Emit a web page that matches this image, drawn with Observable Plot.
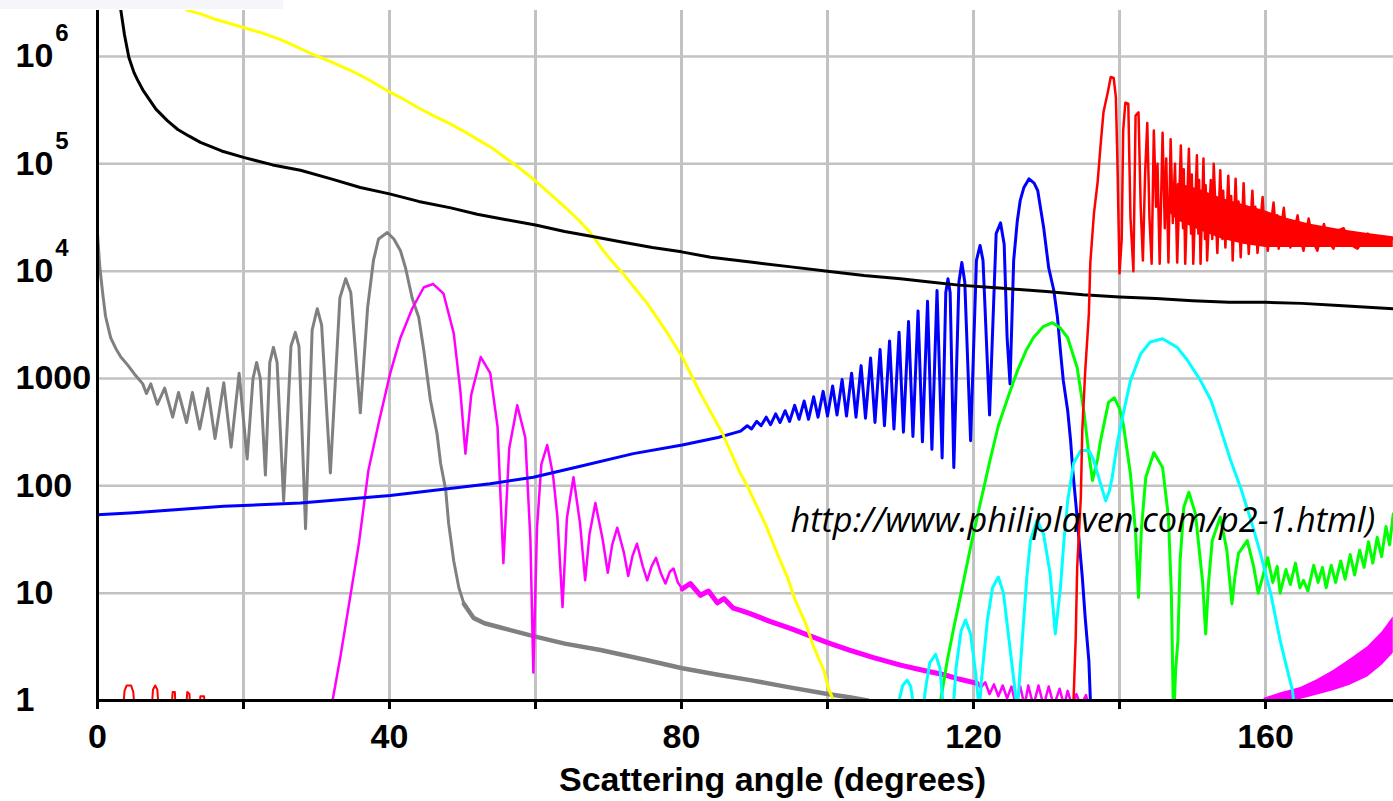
<!DOCTYPE html>
<html>
<head>
<meta charset="utf-8">
<script src="https://cdn.jsdelivr.net/npm/d3@7"></script>
<script src="https://cdn.jsdelivr.net/npm/@observablehq/plot@0.6"></script>
<style>
  html, body { margin: 0; padding: 0; background: #fff; overflow: hidden; }
  #wrap { position: relative; width: 1393px; height: 801px; }
  #strip { position: absolute; left: 0; top: 0; width: 283px; height: 9px; background: #f6f6fa; }
</style>
</head>
<body>
<div id="wrap"></div>
<script>
// Mie scattering intensity vs scattering angle, log scale.
// Each curve: [angle in degrees, log10(intensity)].

const xTicks = [0, 20, 40, 60, 80, 100, 120, 140, 160];
const xGrid = [20, 40, 60, 80, 100, 120, 140, 160];
const yTicks = [1, 10, 100, 1000, 1e4, 1e5, 1e6];
const yTickLabels = ["1", "10", "100", "1000", "10^4", "10^5", "10^6"];
const yGrid = [10, 100, 1000, 1e4, 1e5, 1e6];
const xTitle = "Scattering angle (degrees)";
const sourceNote = "http://www.philiplaven.com/p2-1.html)";

const black = [[3.0,6.52],[3.2,6.43],[3.7,6.2],[4.3,5.99],[5.0,5.85],[5.5,5.78],[6.2,5.69],[6.9,5.62],[8.0,5.51],[9.6,5.40],[11.0,5.32],[12.5,5.26],[14.1,5.20],[17.0,5.12],[20.0,5.06],[24.0,4.99],[27.8,4.94],[32.0,4.86],[36.0,4.78],[40.0,4.72],[44.0,4.65],[48.4,4.59],[52.0,4.53],[56.0,4.48],[60.0,4.43],[64.0,4.37],[68.0,4.32],[72.0,4.27],[76.0,4.22],[80.0,4.18],[84.0,4.13],[90.0,4.08],[95.0,4.04],[100.0,4.0],[105.0,3.96],[110.0,3.93],[114.0,3.90],[118.0,3.87],[124.0,3.84],[130.0,3.81],[135.0,3.78],[140.0,3.76],[145.0,3.745],[150.0,3.725],[155.0,3.71],[160.0,3.71],[165.0,3.70],[170.0,3.68],[177.5,3.65]];

const yellow = [[12.0,6.45],[12.3,6.43],[14.0,6.40],[16.0,6.35],[18.0,6.31],[20.0,6.27],[22.5,6.22],[25.0,6.16],[27.0,6.10],[29.2,6.03],[32.0,5.95],[35.0,5.86],[37.5,5.77],[40.0,5.67],[42.0,5.60],[44.0,5.52],[46.0,5.45],[48.4,5.37],[50.0,5.31],[52.0,5.23],[54.0,5.15],[56.0,5.05],[58.0,4.95],[60.0,4.84],[62.0,4.72],[64.0,4.60],[66.0,4.47],[67.5,4.36],[69.3,4.19],[71.0,4.05],[72.0,3.98],[73.5,3.85],[75.3,3.70],[78.1,3.42],[80.1,3.20],[82.6,2.86],[85.6,2.49],[88.1,2.11],[89.0,2.0],[90.4,1.80],[91.7,1.61],[93.1,1.37],[94.5,1.15],[95.6,0.93],[97.0,0.72],[98.1,0.50],[99.5,0.28],[100.1,0.12],[100.8,0.0],[101.2,-0.1]];

const grayMain = [[0.0,4.35],[0.3,4.05],[0.7,3.80],[1.1,3.58],[1.8,3.38],[2.5,3.28],[3.2,3.20],[4.2,3.12],[5.2,3.03],[6.2,2.95],[6.7,2.86],[7.3,2.95],[8.2,2.76],[9.2,2.91],[10.3,2.64],[11.1,2.87],[12.2,2.59],[13.0,2.87],[14.0,2.53],[15.1,2.91],[16.1,2.44],[17.3,2.96],[18.3,2.36],[19.4,3.05],[20.5,2.25],[21.3,3.0],[21.8,3.15],[22.3,3.0],[23.0,2.10],[23.6,3.15],[24.1,3.29],[24.6,3.15],[25.5,1.86],[26.5,3.3],[27.1,3.43],[27.6,3.3],[28.5,1.60],[29.4,3.45],[30.1,3.65],[30.7,3.5],[31.9,2.12],[33.2,3.75],[34.0,3.93],[34.7,3.8],[36.0,2.68],[37.0,3.66],[37.8,4.10],[38.5,4.30],[39.7,4.36],[40.6,4.30],[41.5,4.19],[42.2,4.03],[43.1,3.75],[44.0,3.57],[44.7,3.26],[45.6,2.80],[46.5,2.49],[47.0,2.21],[47.7,1.96],[48.1,1.65],[48.8,1.30],[49.5,1.05],[50.2,0.90]];
const grayTail = [[50.2,0.90],[51.5,0.77],[53.0,0.72],[55.2,0.68],[59.7,0.60],[64.0,0.53],[68.9,0.47],[75.0,0.38],[80.1,0.30],[85.0,0.24],[89.4,0.19],[95.0,0.12],[100.0,0.06],[103.0,0.03],[105.5,0.0],[106.0,-0.05]];

const magentaMain = [[32.0,-0.1],[32.2,0.0],[33.3,0.42],[34.7,1.0],[35.8,1.46],[37.1,2.14],[38.5,2.58],[40.1,3.05],[41.5,3.38],[43.1,3.65],[44.7,3.85],[46.0,3.88],[47.4,3.79],[48.8,3.42],[49.7,2.89],[50.4,2.30],[51.2,2.85],[52.5,3.20],[53.8,3.05],[54.8,2.55],[55.6,1.28],[56.4,2.35],[57.5,2.75],[58.6,2.45],[59.3,1.5],[59.7,0.26],[60.2,1.6],[60.8,2.2],[61.6,2.38],[62.4,2.1],[63.0,1.71],[63.7,0.87],[64.3,1.7],[65.2,2.08],[66.1,1.65],[66.8,1.12],[67.4,1.55],[68.2,1.84],[69.2,1.5],[69.9,1.19],[70.5,1.45],[71.2,1.61],[72.1,1.38],[72.7,1.16],[73.3,1.35],[73.9,1.46],[74.7,1.25],[75.3,1.12],[75.9,1.25],[76.5,1.33],[77.2,1.18],[77.8,1.09],[78.4,1.2],[78.9,1.23],[79.5,1.1],[80.1,1.04]];
const magentaTail = [[80.1,1.04],[81.2,1.09],[82.6,0.98],[83.7,1.02],[84.9,0.91],[85.8,0.95],[87.1,0.86],[88.1,0.84],[89.4,0.81],[92.0,0.74],[95.0,0.67],[100.0,0.54],[103.0,0.47],[106.3,0.40],[110.0,0.33],[113.2,0.28],[116.0,0.24],[118.0,0.20],[120.5,0.16]];
const magentaSpikes = [[120.5,0.16],[121.0,0.12],[121.6,0.17],[122.2,0.06],[122.8,0.15],[123.4,0.04],[124.0,0.14],[124.6,0.02],[125.2,0.13],[125.8,-0.05],[126.4,0.13],[127.0,-0.05],[127.5,0.14],[128.2,-0.05],[128.9,0.14],[129.6,-0.05],[130.3,0.13],[131.0,-0.05],[131.8,0.11],[132.4,-0.05],[132.9,0.09],[133.5,-0.05],[134.1,0.06],[134.7,-0.05],[135.4,0.05],[136.0,-0.1]];
// [angle, log10 low, log10 high] of the fast-oscillating backscatter band
const magentaBack = [[159.8,-0.05,0.02],[162.0,-0.03,0.07],[164.8,0.01,0.12],[167.0,0.05,0.19],[169.3,0.09,0.28],[171.5,0.14,0.38],[174.0,0.22,0.50],[176.0,0.33,0.64],[177.5,0.44,0.78]];

const blue = [[0.0,1.73],[5.0,1.75],[17.3,1.81],[27.8,1.84],[40.1,1.91],[53.8,2.02],[59.7,2.08],[66.0,2.18],[73.4,2.30],[80.1,2.38],[85.0,2.45],[88.1,2.51],
  [89.0,2.56],[89.6,2.53],[90.3,2.60],[90.9,2.56],[91.6,2.64],[92.2,2.57],[92.9,2.67],[93.5,2.59],[94.2,2.70],[94.8,2.60],[95.5,2.75],[96.1,2.62],[96.8,2.79],[97.4,2.62],[98.1,2.83],[98.7,2.64],[99.4,2.88],[100.0,2.65],[100.7,2.93],[101.3,2.66],[102.0,2.99],[102.6,2.65],[103.3,3.05],[103.9,2.64],[104.6,3.12],[105.2,2.63],[105.9,3.19],[106.5,2.59],[107.2,3.27],[107.8,2.56],[108.5,3.35],[109.1,2.53],[109.8,3.43],[110.4,2.50],[111.1,3.53],[111.7,2.46],[112.4,3.63],[113.0,2.41],[113.7,3.72],[114.3,2.34],[115.0,3.82],[115.7,2.26],[116.2,3.8],[116.5,3.93],[116.8,3.8],[117.3,2.17],[118.0,3.9],[118.4,4.08],[118.8,3.9],[119.6,2.42],[120.4,4.1],[120.9,4.24],[121.3,4.1],[122.2,2.66],[123.1,4.35],[123.7,4.45],[124.2,4.25],[124.6,3.38],[125.0,2.95],[125.5,4.10],[126.0,4.47],[126.4,4.66],[126.9,4.78],[127.6,4.86],[128.3,4.82],[128.8,4.75],[129.6,4.41],[130.3,4.03],[131.0,3.82],[131.5,3.57],[131.9,3.26],[132.3,2.98],[132.9,2.70],[133.3,2.42],[133.6,2.14],[134.2,1.70],[134.9,1.15],[135.3,0.77],[135.8,0.37],[136.0,0.02],[136.3,-0.3]];

const green = [[115.2,-0.1],[115.5,0.0],[116.4,0.37],[117.3,0.68],[118.2,0.97],[119.6,1.43],[121.0,1.86],[122.3,2.25],[123.4,2.56],[124.7,2.82],[126.0,3.07],[127.2,3.26],[128.2,3.38],[129.5,3.48],[130.8,3.52],[131.9,3.47],[132.9,3.38],[134.2,3.10],[135.1,2.70],[135.8,2.30],[136.3,2.05],[137.0,2.25],[137.4,2.42],[138.5,2.78],[139.3,2.82],[140.0,2.72],[140.5,2.58],[141.5,2.11],[142.2,1.56],[142.6,0.96],[143.0,1.6],[143.6,2.08],[144.7,2.31],[145.9,2.17],[146.7,1.71],[147.1,1.0],[147.4,-0.2],[147.7,0.3],[148.0,0.56],[148.3,1.3],[148.8,1.80],[149.5,1.94],[150.4,1.74],[151.4,1.09],[151.8,0.62],[152.2,1.1],[152.7,1.49],[153.8,1.71],[154.7,1.40],[155.4,0.90],[155.8,1.15],[156.3,1.37],[157.5,1.49],[158.4,1.24],[159.0,1.0],[159.6,1.15],[160.3,1.33],[161.0,1.10],[161.6,1.25],[162.0,1.0],[162.8,1.22],[163.4,1.08],[164.1,1.28],[164.7,1.05],[165.2,1.12],[165.8,1.02],[166.6,1.26],[167.2,1.10],[167.8,1.24],[168.3,1.05],[169.0,1.26],[169.6,1.10],[170.3,1.30],[170.9,1.13],[171.6,1.36],[172.2,1.17],[172.9,1.40],[173.5,1.24],[174.1,1.48],[174.7,1.28],[175.3,1.52],[175.9,1.34],[176.5,1.62],[177.0,1.45],[177.5,1.74]];

const cyan = [[109.6,-0.2],[109.8,0.0],[110.3,0.14],[110.9,0.19],[111.4,0.13],[111.9,-0.1],[113.1,-0.1],[113.4,0.1],[114.0,0.35],[114.8,0.43],[115.4,0.3],[115.9,-0.1],[117.2,-0.1],[117.6,0.3],[118.3,0.65],[118.9,0.75],[119.6,0.62],[120.3,0.25],[120.8,-0.1],[121.1,0.2],[121.9,0.75],[122.6,1.05],[123.4,1.15],[124.1,1.0],[124.8,0.6],[125.5,0.2],[126.0,-0.1],[126.4,0.3],[126.8,0.68],[127.3,1.15],[127.8,1.49],[128.7,1.68],[129.6,1.55],[130.5,1.18],[131.2,0.62],[131.9,1.05],[132.4,1.5],[132.9,1.86],[133.7,2.21],[134.7,2.33],[135.8,2.33],[136.4,2.25],[137.4,2.02],[138.1,1.86],[138.6,1.95],[139.0,2.08],[139.7,2.40],[140.6,2.70],[141.5,2.98],[142.9,3.23],[144.2,3.34],[145.9,3.37],[147.9,3.29],[149.3,3.17],[151.1,2.98],[152.5,2.80],[153.8,2.54],[155.2,2.24],[156.6,1.98],[158.0,1.68],[159.3,1.37],[160.7,1.0],[162.0,0.56],[163.0,0.28],[163.7,0.09],[164.0,-0.1]];

const red = [[133.5,-0.3],[133.7,0.0],[134.0,0.59],[134.2,1.24],[134.7,1.89],[134.9,2.52],[135.3,3.07],[135.8,3.60],[136.0,4.08],[136.5,4.54],[137.0,4.83],[137.4,5.17],[137.8,5.48],[138.4,5.67],[138.8,5.81],[139.2,5.80],[139.5,5.62],[139.7,5.06],[140.0,3.98],[140.3,4.3],[140.5,5.31],[140.8,5.57],[141.2,5.56],[141.5,4.5],[141.9,4.0],[142.2,5.45],[142.6,5.48],[142.9,4.6],[143.2,4.1],[143.5,4.9],[143.8,5.38],[144.1,4.5],[144.4,4.07],[144.7,5.31],[145.0,4.6],[145.2,5.0],[145.5,4.07],[145.9,5.29],[146.2,4.4],[146.4,5.05],[146.7,4.08],[147.0,5.23],[147.3,4.45],[147.6,5.0],[147.9,4.08],[148.4,5.17],[148.7,4.4],[148.8,4.95],[149.0,4.07],[149.5,5.14],[149.8,4.35],[149.9,4.9],[150.1,4.07],[150.6,5.08],[150.8,4.35],[150.9,4.85],[151.1,4.07],[151.5,5.05],[151.7,4.3],[151.8,4.8],[152.0,4.10],[152.5,4.85],[152.7,4.3],[152.9,5.0],[153.4,4.17],[153.8,4.94],[154.1,4.3],[154.2,4.75],[154.5,4.22],[154.9,4.89],[155.2,4.3],[155.3,4.7],[155.5,4.10],[155.9,4.86],[156.2,4.3],[156.3,4.65],[156.6,4.13],[157.0,4.82],[157.3,4.3],[157.4,4.6],[157.7,4.16],[158.2,4.75],[158.5,4.3],[158.6,4.6],[158.9,4.17],[159.6,4.69],[159.9,4.3],[160.0,4.55],[160.3,4.19],[161.1,4.64],[161.5,4.3],[161.6,4.52],[161.8,4.21],[162.5,4.59],[162.9,4.3],[163.0,4.48],[163.4,4.22],[164.4,4.52],[164.8,4.3],[165.2,4.19],[165.9,4.49],[166.5,4.28],[167.1,4.19],[168.0,4.44],[168.6,4.28],[169.3,4.21],[170.0,4.38],[170.7,4.40],[171.6,4.25],[172.6,4.21],[174.0,4.35],[175.0,4.25],[176.2,4.24],[177.5,4.31]];
// dense part of the backscatter oscillation: [angle, log10 low, log10 high]
const redCore = [[146.0,4.6,4.6],[148.0,4.47,4.82],[151.0,4.38,4.76],[154.0,4.30,4.68],[157.0,4.25,4.62],[160.0,4.22,4.56],[163.0,4.22,4.49],[166.0,4.22,4.44],[170.0,4.22,4.39],[174.0,4.22,4.35],[177.5,4.22,4.32]];
// small forward lobes just above 1 (null separates the lobes)
const redForward = [[3.5,-0.1],[3.7,0.09],[4.0,0.14],[4.6,0.14],[4.9,0.08],[5.1,-0.1],null,[7.4,-0.1],[7.6,0.1],[7.9,0.14],[8.2,0.1],[8.4,-0.1],null,[10.1,-0.1],[10.3,0.08],[10.6,0.08],[10.7,-0.1],null,[12.1,-0.1],[12.3,0.08],[12.6,0.06],[12.7,-0.1],null,[13.9,-0.1],[14.1,0.04],[14.6,0.04],[14.7,-0.1]];

const toRows = pts => pts.map(p => p == null ? {deg: NaN, val: NaN} : {deg: p[0], val: 10 ** p[1]});
const toBand = pts => pts.map(([deg, lo, hi]) => ({deg, lo: 10 ** lo, hi: 10 ** hi}));

const FONT = "'Liberation Sans', Arial, sans-serif";
const GRID = "#c2c2c2";

const curve = (pts, color, w) => Plot.line(toRows(pts), {x: "deg", y: "val", stroke: color, strokeWidth: w, clip: true});
const band = (pts, color) => Plot.areaY(toBand(pts), {x: "deg", y1: "lo", y2: "hi", fill: color, clip: true});

const chart = Plot.plot({
  width: 1393,
  height: 801,
  marginLeft: 97,
  marginRight: 0,
  marginTop: 10,
  marginBottom: 101,
  x: {domain: [0, 177.53], axis: null},
  y: {type: "log", domain: [1, 10 ** 6.4287], axis: null},
  style: {background: "white", overflow: "hidden"},
  marks: [
    Plot.ruleY(yGrid, {stroke: GRID, strokeWidth: 2.5}),
    Plot.ruleX(xGrid, {stroke: GRID, strokeWidth: 3}),

    curve(grayMain, "#808080", 3),
    curve(grayTail, "#808080", 4.5),
    curve(magentaMain, "#ff00ff", 2.5),
    curve(magentaTail, "#ff00ff", 5),
    curve(magentaSpikes, "#ff00ff", 2.5),
    band(magentaBack, "#ff00ff"),
    curve(blue, "#0000ff", 3),
    curve(yellow, "#ffff00", 3),
    curve(black, "#000000", 3),
    curve(green, "#00ff00", 3),
    curve(cyan, "#00ffff", 3),
    band(redCore, "#ff0000"),
    curve(red, "#ff0000", 2.5),
    curve(redForward, "#ff0000", 2),

    Plot.ruleX([0], {stroke: "black", strokeWidth: 3}),
    Plot.ruleY([1], {stroke: "black", strokeWidth: 3}),

    Plot.axisX(xTicks, {
      anchor: "bottom", tickSize: 9, tickPadding: 14, strokeWidth: 3,
      tickFormat: d => (d % 40 === 0 ? String(d) : ""),
      fontSize: 34, fontWeight: "bold", fontFamily: FONT, fill: "black", label: null
    }),
    Plot.text(yTicks, {
      frameAnchor: "left", y: d => d, text: (d, i) => yTickLabels[i],
      dx: -82, textAnchor: "start", lineAnchor: "middle",
      fontSize: 34, fontWeight: "bold", fontFamily: FONT, fill: "black"
    }),
    Plot.text([xTitle], {
      frameAnchor: "bottom", text: d => d, dx: 27, dy: 80, lineAnchor: "middle",
      fontSize: 34, fontWeight: "bold", fontFamily: FONT, fill: "black"
    }),
    Plot.text([sourceNote], {
      frameAnchor: "top-left", text: d => d, dx: 693, dy: 511,
      textAnchor: "start", lineAnchor: "middle",
      fontSize: 34.3, fontStyle: "italic", fontFamily: "'Open Sans', sans-serif", fill: "black"
    })
  ]
});

// Turn "10^n" labels into a base with a superscript exponent.
chart.querySelectorAll("text").forEach(t => {
  const m = /^(\d+)\^(\d+)$/.exec(t.textContent);
  if (!m) return;
  t.textContent = m[1];
  const sup = document.createElementNS("http://www.w3.org/2000/svg", "tspan");
  sup.setAttribute("font-size", "24");
  sup.setAttribute("dx", "2");
  sup.setAttribute("dy", "-26");
  sup.textContent = m[2];
  t.appendChild(sup);
});

const wrap = document.getElementById("wrap");
wrap.appendChild(chart);
const strip = document.createElement("div");
strip.id = "strip";
wrap.appendChild(strip);
</script>
</body>
</html>
